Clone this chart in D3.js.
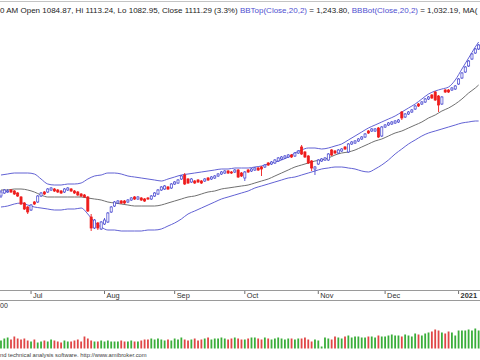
<!DOCTYPE html>
<html><head><meta charset="utf-8">
<script src="https://cdn.jsdelivr.net/npm/d3@7"></script>
<style>html,body{margin:0;padding:0;background:#fff;overflow:hidden}svg{display:block}</style>
</head><body><svg id="c" width="480" height="360"></svg>
<script>
// ---- data ----
const tradingDays = {
  "2020-06": [18,19,22,23,24,25,26,29,30],
  "2020-07": [1,2,6,7,8,9,10,13,14,15,16,17,20,21,22,23,24,27,28,29,30,31],
  "2020-08": [3,4,5,6,7,10,11,12,13,14,17,18,19,20,21,24,25,26,27,28,31],
  "2020-09": [1,2,3,4,8,9,10,11,14,15,16,17,18,21,22,23,24,25,28,29,30],
  "2020-10": [1,2,5,6,7,8,9,12,13,14,15,16,19,20,21,22,23,26,27,28,29,30],
  "2020-11": [2,3,4,5,6,9,10,11,12,13,16,17,18,19,20,23,24,25,27,30],
  "2020-12": [1,2,3,4,7,8,9,10,11,14,15,16,17,18,21,22,23,24,28,29,30,31],
  "2021-01": [4,5,6,7,8,11,12]
};
const monthKeys = ["2020-07","2020-08","2020-09","2020-10","2020-11","2020-12","2021-01"];
const monthLabels = ["Jul","Aug","Sep","Oct","Nov","Dec","2021"];

const opens = [954,957,958,960,959,957,953,947,943,940,
948,948,954,958,958,960,961,960,959,958,
960,961,959,958,956,955,953,933,922,927,
921,926,928,938,944,947,949,949,948,950,
953,951,952,951,952,951,954,956,960,961,
963,962,966,967,971,975,971,968,969,970,
969,969,972,971,972,974,976,977,979,978,
978,980,977,972,980,979,980,982,983,983,
987,986,987,989,991,992,993,995,994,997,
1003,998,994,989,981,986,989,990,990,1000,
999,997,999,1003,998,1006,1007,1009,1011,1013,
1019,1019,1019,1022,1014,1023,1025,1026,1027,1028,
1038,1033,1036,1038,1041,1046,1046,1048,1051,1055,
1058,1054,1046,1060,1060,1060,1061,1066,1072,1078,
1084,1091,1097,1101];
const highs = [960,961,961,961,960,958,954,948,944,946,
949,955,958,959,962,963,962,961,960,962,
963,962,960,959,957,956,954,936,931,928,
929,932,938,944,949,950,950,950,951,953,
954,954,953,952,953,955,958,961,964,965,
964,967,969,971,975,977,972,972,970,971,
970,972,973,974,975,977,979,980,980,979,
981,981,978,979,981,982,983,983,984,986,
988,989,991,993,994,995,996,996,998,1000,
1005,999,995,990,984,991,992,993,997,1001,
1000,1001,1002,1004,1007,1009,1010,1012,1014,1017,
1020,1022,1022,1023,1024,1026,1028,1029,1030,1031,
1039,1037,1039,1041,1045,1047,1049,1052,1054,1056,
1059,1055,1054,1061,1061,1063,1065,1072,1078,1084,
1090,1097,1102,1106];
const lows = [952,956,957,957,955,953,945,940,936,939,
945,947,953,955,957,959,958,957,956,957,
959,958,956,954,953,952,938,919,921,920,
920,925,927,937,943,946,946,946,947,949,
950,950,949,948,950,950,953,955,959,960,
960,961,965,966,970,965,966,967,966,967,
966,968,969,970,971,973,975,976,976,976,
977,972,973,969,977,978,979,979,974,982,
984,985,986,988,990,991,992,992,993,996,
995,992,986,979,975,985,988,989,989,994,
996,996,998,1000,997,1005,1006,1008,1010,1012,
1016,1018,1018,1012,1013,1022,1024,1025,1026,1027,
1030,1032,1035,1037,1040,1043,1045,1047,1050,1051,
1049,1038,1045,1057,1057,1059,1060,1065,1071,1077,
1083,1090,1096,1100];
const closes = [958,960,959,958,956,954,946,941,938,945,
946,954,957,956,961,962,959,958,957,961,
962,959,957,955,954,953,939,922,930,922,
928,930,937,943,948,949,947,947,950,952,
951,953,950,949,951,954,957,960,963,964,
961,966,968,970,974,966,967,971,967,968,
967,971,970,973,974,976,978,979,977,977,
980,973,974,978,978,981,982,980,981,985,
985,988,990,992,993,994,995,993,997,999,
996,993,987,982,983,990,991,992,996,995,
997,1000,1001,1001,1006,1008,1009,1011,1013,1016,
1017,1021,1021,1013,1023,1025,1027,1028,1029,1030,
1032,1036,1038,1040,1044,1044,1048,1051,1053,1052,
1050,1045,1053,1058,1058,1062,1064,1071,1077,1083,
1089,1096,1101,1105];
const volumes = [800,1000,1100,900,1200,1000,900,1000,800,
700,900,600,700,800,700,900,800,700,600,800,700,700,800,900,700,1200,1000,800,700,700,800,
700,800,700,700,700,800,700,700,800,700,700,800,900,900,1000,900,1000,900,800,900,800,
1000,900,1100,900,800,900,1000,800,900,1000,1100,900,1000,1000,1100,1000,900,1000,1100,1000,900,
900,1000,1100,1100,1000,900,1100,1000,900,1000,1100,1000,900,1000,1000,900,1000,1000,1100,900,700,900,
800,200,
1100,1000,900,1200,1100,1000,1200,1300,1100,1200,1200,1100,1100,1200,1200,1100,1300,1200,
1200,1300,1400,1300,1300,1200,1400,1300,1200,1500,1400,1300,1500,1600,1700,1900,1800,1600,1500,1700,1600,1300,
1800,1800,1800,1900,1800,2000,1800];
// Bollinger / MA values read at every 2nd bar (plus the last one)
const bandBars = d3.range(0, 143, 2).concat([143]);
const bbTop = [975,976,977,977,977,976,971,966,965,965,966,966,967,971,974,975,977,977,976,974,
973,972,971,970,969,971,973,975,976,977,978,979,980,981,981,982,982,982,983,984,
986,988,990,993,997,1000,1002,1002,1001,1002,1004,1006,1010,1014,1018,1022,1025,1028,1031,1034,
1038,1042,1046,1051,1056,1059,1061,1063,1070,1081,1092,1103,1108];
const ma20 = [960,960,961,961,960,958,955,953,953,953,953,953,953,952,951,950,948,947,946,945,
944,944,944,944,945,947,949,951,953,954,956,958,959,961,962,963,964,965,967,969,
971,974,977,980,983,985,987,989,990,992,995,997,998,1000,1003,1006,1009,1011,1014,1017,
1019,1022,1025,1028,1032,1035,1039,1042,1046,1051,1057,1062,1065];
const bbBot = [943,944,946,947,945,943,942,941,940,940,941,941,942,936,928,923,920,920,919,919,
919,919,920,920,921,924,927,931,936,939,942,945,948,951,953,955,957,959,962,964,
966,968,970,972,973,975,977,979,981,982,983,983,982,981,979,978,981,985,990,996,
1001,1006,1010,1014,1017,1019,1021,1023,1025,1027,1028,1029,1029];

// ---- build ----
const dates = [];
Object.keys(tradingDays).forEach(k => tradingDays[k].forEach(d => dates.push(k + "-" + String(d).padStart(2, "0"))));
const bars = dates.map((d, i) => ({date: d, o: opens[i], h: highs[i], l: lows[i], c: closes[i], v: volumes[i]}));

const svg = d3.select("#c");
const FONT = "'Liberation Sans', Arial, sans-serif";
const x = d3.scaleBand().domain(dates).range([-0.7, 480.3]).padding(0);
const cx = d => x(d) + x.bandwidth() / 2;
const y = d3.scaleLinear().domain([860, 1150]).range([290, 0]);
const yv = d3.scaleLinear().domain([0, 5000]).range([348.5, 298.5]);

svg.append("defs").append("clipPath").attr("id", "pc")
  .append("rect").attr("x", 0).attr("y", 3).attr("width", 480).attr("height", 287);

// top frame line
svg.append("line").attr("x1", 0).attr("x2", 480).attr("y1", 1.5).attr("y2", 1.5)
  .attr("stroke", "#c4c4c4").attr("stroke-width", 1);

// header
const segs = [
  {t: "0 AM Open 1084.87, Hi 1113.24, Lo 1082.95, Close 1111.29 (3.3%) ", c: "#1c1c1c"},
  {t: "BBTop(Close,20,2)", c: "#4f4fd0"},
  {t: " = 1,243.80, ", c: "#1c1c1c"},
  {t: "BBBot(Close,20,2)", c: "#4f4fd0"},
  {t: " = 1,032.19, MA(", c: "#1c1c1c"}
];
svg.append("text").attr("x", 0).attr("y", 13).attr("font-family", FONT).attr("font-size", 8)
  .attr("xml:space", "preserve").style("white-space", "pre")
  .selectAll("tspan").data(segs).join("tspan").attr("fill", d => d.c).text(d => d.t);

const pane = svg.append("g").attr("clip-path", "url(#pc)");
const bandLine = arr => d3.line().x((v, k) => cx(dates[bandBars[k]])).y(v => y(v)).curve(d3.curveMonotoneX)(arr);
pane.append("path").attr("d", bandLine(bbTop)).attr("fill", "none").attr("stroke", "#6262d4").attr("stroke-width", 1);
pane.append("path").attr("d", bandLine(bbBot)).attr("fill", "none").attr("stroke", "#6262d4").attr("stroke-width", 1);
pane.append("path").attr("d", bandLine(ma20)).attr("fill", "none").attr("stroke", "#707070").attr("stroke-width", 1);

const UP = "#4848d0", DN = "#ee1c1c";
const cg = pane.selectAll("g.k").data(bars).join("g").attr("class", "k");
cg.append("line")
  .attr("x1", d => cx(d.date)).attr("x2", d => cx(d.date))
  .attr("y1", d => y(d.h)).attr("y2", d => y(d.l))
  .attr("stroke", d => d.c >= d.o ? UP : DN).attr("stroke-width", 0.9);
cg.append("rect")
  .attr("x", d => cx(d.date) - 1.05).attr("width", 2.1)
  .attr("y", d => y(Math.max(d.o, d.c)))
  .attr("height", d => Math.max(1, Math.abs(y(d.o) - y(d.c))))
  .attr("fill", d => d.c >= d.o ? "#ffffff" : DN)
  .attr("stroke", d => d.c >= d.o ? UP : DN).attr("stroke-width", 0.75);

// date axis strip
svg.append("line").attr("x1", 0).attr("x2", 480).attr("y1", 290.5).attr("y2", 290.5).attr("stroke", "#9a9a9a");
svg.append("line").attr("x1", 0).attr("x2", 480).attr("y1", 300.5).attr("y2", 300.5).attr("stroke", "#9a9a9a");
const firstOf = monthKeys.map(k => dates.find(d => d.startsWith(k)));
const mt = svg.append("g").attr("font-family", FONT).attr("font-size", 7.4).attr("fill", "#303030");
mt.selectAll("line").data(firstOf).join("line")
  .attr("x1", d => cx(d)).attr("x2", d => cx(d)).attr("y1", 291).attr("y2", 294)
  .attr("stroke", "#707070");
mt.selectAll("text").data(firstOf).join("text")
  .attr("x", d => cx(d) + 2).attr("y", 298)
  .attr("font-weight", (d, i) => monthLabels[i] === "2021" ? "bold" : "normal")
  .text((d, i) => monthLabels[i]);

// volume pane
svg.append("text").attr("x", 0).attr("y", 307.5).attr("font-family", FONT).attr("font-size", 7)
  .attr("fill", "#303030").text("00");
svg.append("g").selectAll("rect").data(bars).join("rect")
  .attr("x", d => cx(d.date) - 0.9).attr("width", 1.8)
  .attr("y", d => yv(d.v)).attr("height", d => yv(0) - yv(d.v))
  .attr("fill", d => d.c >= d.o ? "#3aae3a" : "#e04646");

// footer
svg.append("text").attr("x", 0).attr("y", 357).attr("font-family", FONT).attr("font-size", 5.8)
  .attr("fill", "#404040").text("nd technical analysis software. http://www.amibroker.com");
</script></body></html>
